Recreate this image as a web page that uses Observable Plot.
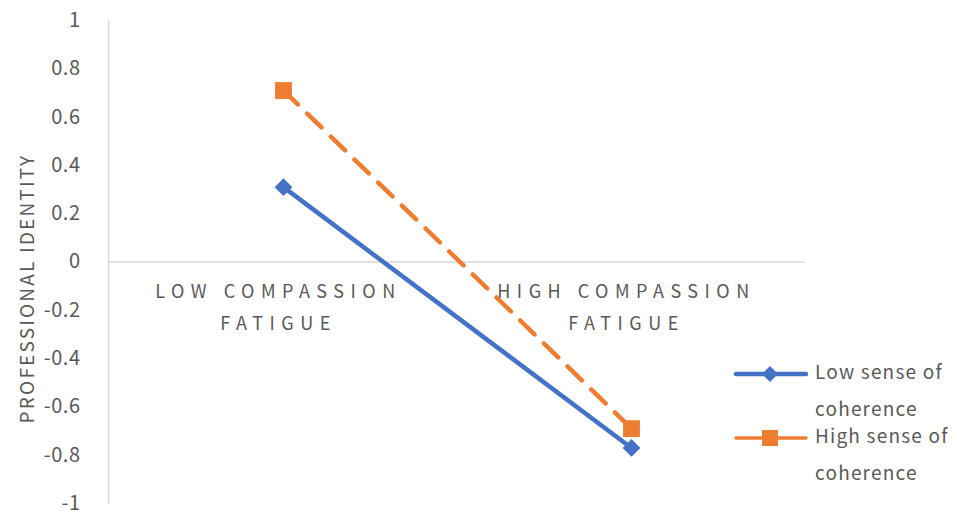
<!DOCTYPE html>
<html>
<head>
<meta charset="utf-8">
<script src="https://cdn.jsdelivr.net/npm/d3@7"></script>
<script src="https://cdn.jsdelivr.net/npm/@observablehq/plot@0.6"></script>
<style>
  html, body { margin: 0; padding: 0; background: #fff; }
  #wrap { position: relative; width: 972px; height: 514px; font-family: "Noto Sans CJK JP", "Noto Sans", sans-serif; }
  .cat text { letter-spacing: 6.5px; }
  .ytitle text { letter-spacing: 2.2px; }
  .yax text { letter-spacing: 0.5px; }
  #legend { position: absolute; left: 733px; top: 352px; color: #595959; font-size: 19px; letter-spacing: 1.2px; }
  .item { position: relative; height: 64px; }
  .item svg { position: absolute; left: 0; top: 3px; }
  .item .lbl { position: absolute; left: 82px; top: 0; line-height: 37px; white-space: nowrap; }
</style>
</head>
<body>
<div id="wrap"></div>
<script>
const categories = ["LOW COMPASSION\nFATIGUE", "HIGH COMPASSION\nFATIGUE"];
const seriesNames = ["Low sense of coherence", "High sense of coherence"];
const lowCoherence = [0.31, -0.77];
const highCoherence = [0.71, -0.69];
const yTicks = [1, 0.8, 0.6, 0.4, 0.2, 0, -0.2, -0.4, -0.6, -0.8, -1];
const colors = ["#4472C4", "#ED7D31"];

const data = [];
categories.forEach((c, i) => {
  data.push({cat: c, series: seriesNames[0], value: lowCoherence[i]});
  data.push({cat: c, series: seriesNames[1], value: highCoherence[i]});
});
const lowData = data.filter(d => d.series === seriesNames[0]);
const highData = data.filter(d => d.series === seriesNames[1]);

const chart = Plot.plot({
  width: 972,
  height: 514,
  marginLeft: 108,
  marginRight: 167,
  marginTop: 20,
  marginBottom: 11,
  style: {fontFamily: '"Noto Sans CJK JP", "Noto Sans", sans-serif', color: "#595959", background: "#fff"},
  x: {type: "point", domain: categories, padding: 0.5, axis: null},
  y: {domain: [-1, 1], ticks: yTicks, label: null},
  marks: [
    Plot.frame({anchor: "left", stroke: "#d9d9d9", strokeWidth: 1.5}),
    Plot.ruleY([0], {stroke: "#d9d9d9", strokeWidth: 1.5}),
    Plot.axisY({ticks: yTicks, tickSize: 0, tickPadding: 28, fontSize: 20, fill: "#595959", label: null, tickFormat: d => String(d), className: "yax"}),
    Plot.text(["PROFESSIONAL IDENTITY"], {frameAnchor: "left", textAnchor: "middle", dx: -81, y: () => -0.11, rotate: -90, fontSize: 19, fill: "#595959", className: "ytitle"}),
    Plot.text(categories, {x: d => d, y: () => 0, dx: -5, dy: 14, lineAnchor: "top", lineHeight: 1.75, fontSize: 18, fill: "#595959", className: "cat"}),
    Plot.line(highData, {x: "cat", y: "value", stroke: colors[1], strokeWidth: 4.5, strokeDasharray: "20,13", strokeLinecap: "round"}),
    Plot.line(lowData, {x: "cat", y: "value", stroke: colors[0], strokeWidth: 4.5, strokeLinecap: "round"}),
    Plot.dot(highData, {x: "cat", y: "value", symbol: "square", r: 9.5, fill: colors[1], stroke: "none"}),
    Plot.dot(lowData, {x: "cat", y: "value", symbol: "diamond2", r: 8, fill: colors[0], stroke: "none"})
  ]
});
const wrap = document.getElementById("wrap");
wrap.appendChild(chart);

const legend = document.createElement("div");
legend.id = "legend";
const lines = [["Low sense of", "coherence"], ["High sense of", "coherence"]];
seriesNames.forEach((s, i) => {
  const item = document.createElement("div");
  item.className = "item";
  const sym = i === 0
    ? `<path d="M37 11 L45 19 L37 27 L29 19 Z" fill="${colors[0]}"/>`
    : `<rect x="29" y="11" width="16" height="16" fill="${colors[1]}"/>`;
  item.innerHTML = `<svg width="76" height="38"><line x1="3" y1="19" x2="73" y2="19" stroke="${colors[i]}" stroke-width="${i === 0 ? 4.5 : 3.5}" stroke-linecap="round"/>${sym}</svg>` +
    `<div class="lbl">${lines[i][0]}<br>${lines[i][1]}</div>`;
  item.style.height = i === 0 ? "64px" : "74px";
  legend.appendChild(item);
});
wrap.appendChild(legend);
</script>
</body>
</html>
